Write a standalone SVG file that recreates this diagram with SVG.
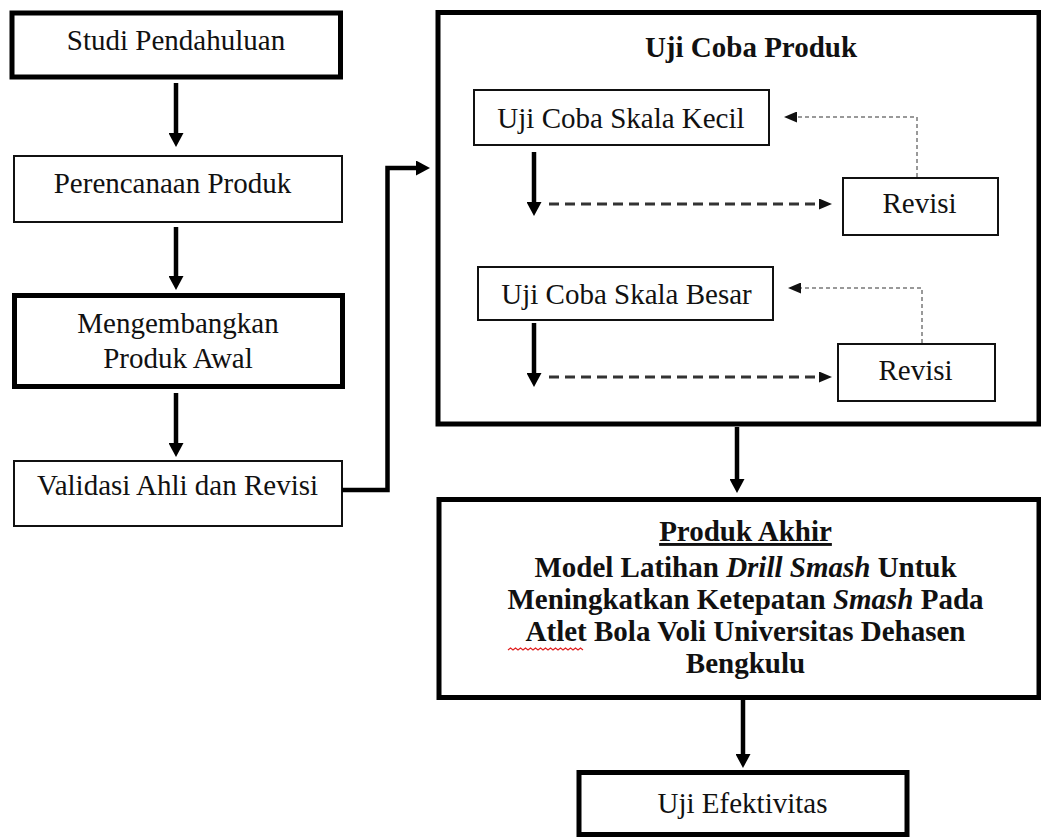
<svg xmlns="http://www.w3.org/2000/svg" width="1041" height="838" viewBox="0 0 1041 838">
<style>
.t{font-size:29px;fill:#111;text-anchor:middle}
.b{font-weight:bold}
.thick{fill:#fff;stroke:#000;stroke-width:5}
.thin{fill:#fff;stroke:#111;stroke-width:2}
.sh{fill:none;stroke:#000;stroke-width:4.5}
.da{fill:none;stroke:#333;stroke-width:3;stroke-dasharray:10 6}
.do{fill:none;stroke:#999;stroke-width:2;stroke-dasharray:4 3}
</style>
<defs>
<marker id="ah" viewBox="0 0 14 15" markerWidth="14" markerHeight="15" markerUnits="userSpaceOnUse" refX="2" refY="7.5" orient="auto"><path d="M0,0 L14,7.5 L0,15 z" fill="#000"/></marker>
<marker id="as" viewBox="0 0 13 11" markerWidth="13" markerHeight="11" markerUnits="userSpaceOnUse" refX="1" refY="5.5" orient="auto"><path d="M0,0 L13,5.5 L0,11 z" fill="#111"/></marker>
</defs>
<rect width="1041" height="838" fill="#fff"/>
<g font-family="'Liberation Serif', 'Times New Roman', Times, 'DejaVu Serif', serif">
<g id="n-studi"><rect class="thick" x="12" y="13" width="328.5" height="64"/><text class="t" x="176" y="50">Studi Pendahuluan</text></g>
<g id="n-perencanaan"><rect class="thin" x="14" y="156" width="328" height="66"/><text class="t" x="172.5" y="193">Perencanaan Produk</text></g>
<g id="n-mengembangkan"><rect class="thick" x="14.5" y="295.5" width="328" height="91"/><text class="t" x="178" y="333">Mengembangkan</text><text class="t" x="178" y="368">Produk Awal</text></g>
<g id="n-validasi"><rect class="thin" x="14" y="461" width="328" height="65"/><text class="t" x="177.5" y="495">Validasi Ahli dan Revisi</text></g>

<g id="n-ujicoba"><rect class="thick" x="438" y="12.5" width="601" height="411.5"/><text class="t b" x="751" y="57">Uji Coba Produk</text></g>
<g id="n-kecil"><rect class="thin" x="474" y="90" width="295" height="55"/><text class="t" x="621" y="128">Uji Coba Skala Kecil</text></g>
<g id="n-revisi1"><rect class="thin" x="843" y="178" width="155" height="57"/><text class="t" x="919.5" y="213">Revisi</text></g>
<g id="n-besar"><rect class="thin" x="478" y="267" width="295" height="53"/><text class="t" x="626.5" y="304">Uji Coba Skala Besar</text></g>
<g id="n-revisi2"><rect class="thin" x="838" y="344" width="157" height="57"/><text class="t" x="915.5" y="380">Revisi</text></g>

<g id="n-akhir"><rect class="thick" x="439" y="499.5" width="600" height="198"/>
<text class="t b" x="745.5" y="541" text-decoration="underline">Produk Akhir</text>
<text class="t b" x="745.5" y="577">Model Latihan <tspan font-style="italic">Drill Smash</tspan> Untuk</text>
<text class="t b" x="745.5" y="609">Meningkatkan Ketepatan <tspan font-style="italic">Smash</tspan> Pada</text>
<text class="t b" x="745.5" y="641">Atlet Bola Voli Universitas Dehasen</text>
<text class="t b" x="745.5" y="673">Bengkulu</text>
<path d="M508,650 l2.5,-2 l2.5,2 l2.5,-2 l2.5,2 l2.5,-2 l2.5,2 l2.5,-2 l2.5,2 l2.5,-2 l2.5,2 l2.5,-2 l2.5,2 l2.5,-2 l2.5,2 l2.5,-2 l2.5,2 l2.5,-2 l2.5,2 l2.5,-2 l2.5,2 l2.5,-2 l2.5,2 l2.5,-2 l2.5,2 l2.5,-2 l2.5,2 l2.5,-2 l2.5,2 l2.5,-2 l2.5,2" fill="none" stroke="#e02020" stroke-width="1.2"/>
</g>
<g id="n-efektivitas"><rect class="thick" x="579" y="772.5" width="328" height="62"/><text class="t" x="742.5" y="813">Uji Efektivitas</text></g>
</g>
<g id="connectors">
<path class="sh" d="M176,83 V135" marker-end="url(#ah)"/>
<path class="sh" d="M176,227 V278" marker-end="url(#ah)"/>
<path class="sh" d="M176,393 V445" marker-end="url(#ah)"/>
<path class="sh" d="M342,490 H387.5 V168 H418" marker-end="url(#ah)"/>
<path class="sh" d="M534,152 V204" marker-end="url(#ah)"/>
<path class="da" d="M549,204 H820" marker-end="url(#as)"/>
<path class="do" d="M917,177 V117 H796" marker-end="url(#as)"/>
<path class="sh" d="M534,323 V375" marker-end="url(#ah)"/>
<path class="da" d="M549,377 H820" marker-end="url(#as)"/>
<path class="do" d="M922,343 V288 H800" marker-end="url(#as)"/>
<path class="sh" d="M737,427 V481" marker-end="url(#ah)"/>
<path class="sh" d="M743,700 V756" marker-end="url(#ah)"/>
</g>
</svg>
